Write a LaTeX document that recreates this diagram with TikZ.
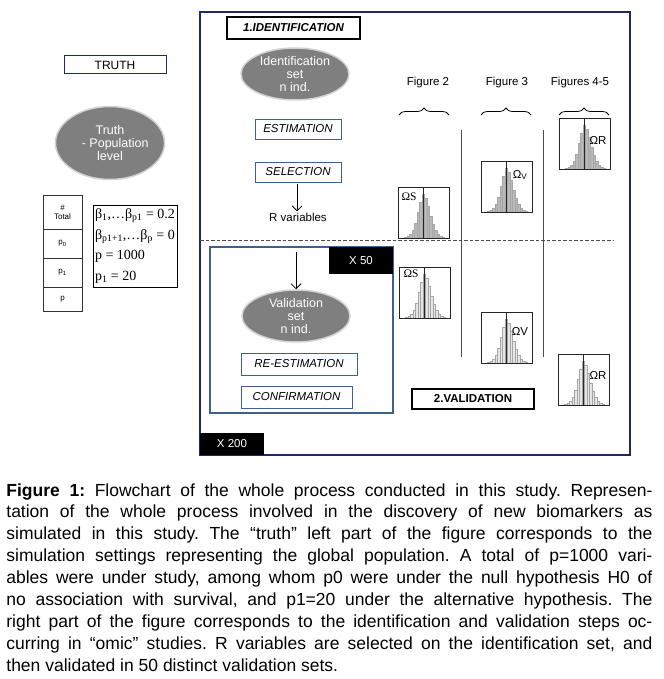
\documentclass[tikz,border=0pt]{standalone}
\usepackage{fontspec}
\setmainfont{Liberation Sans}
\newfontfamily\tmsfont{Liberation Serif}
\usetikzlibrary{arrows.meta, shapes.geometric, decorations.pathreplacing}
\definecolor{navyfr}{HTML}{1F2A63}
\definecolor{steelfr}{HTML}{3F5F8F}
\definecolor{ellgray}{HTML}{7F7F7F}
\newcommand{\fsz}{\fontsize{11.5}{13.5}\selectfont}
\tikzset{
    ttl/.style={draw, line width=1.3pt, inner sep=0pt, font=\bfseries\fsz},
    stp/.style={draw=steelfr, thick, inner sep=0pt, font=\itshape\fsz},
    ell/.style={ellipse, fill=ellgray, draw=gray!35, line width=1.5pt, text=white, align=center, inner sep=0pt, font=\fontsize{12.5}{13}\selectfont},
    blkx/.style={fill=black, text=white, inner sep=0pt, font=\fsz},
    cell/.style={draw=gray!40!black, thick, minimum width=39pt, inner sep=0pt, align=center, font=\fontsize{8}{9}\selectfont},
    lbl/.style={inner sep=1pt, font=\fsz},
    brc/.style={decorate, decoration={brace, amplitude=7pt}, thick},
    sep/.style={draw=gray!60!black, line width=1pt},
    bd/.style={>={Straight Barb[length=5pt]}, thick}
}
\newcommand{\hgram}[3]{%
    \foreach \h [count=\i] in {1,2,4,8,15,26,36,44,40,32,22,14,8,4,2,1}
        \draw[fill=#3, draw=gray!70, line width=0.3pt] ({#1+4+2.5*\i},{#2+51}) rectangle ++(2.5,-\h);
    \draw[gray!30!black] ({#1+25.5},#2) -- ({#1+25.5},{#2+51});
    \draw[gray!30!black, line width=0.8pt] (#1,#2) rectangle ++(51,51);
}

\begin{document}
\begin{tikzpicture}[x=1pt, y=-1pt, bd]
    \useasboundingbox (0,0) rectangle (663,679);

    % truth
    \node[draw=navyfr, line width=1pt, minimum width=102pt, minimum height=18pt, inner sep=0pt, font=\fontsize{12}{14}\selectfont] (truth) at (115,65) {TRUTH};
    \node[ell, minimum width=103pt, minimum height=73pt] (pop) at (110,143) {Truth\\ \ \ \ - Population\\level};
    \node[cell, minimum height=34pt] (tot) at (62.5,212) {\#\\Total};
    \node[cell, minimum height=29pt] (pz) at (62.5,243.5) {p\textsubscript{0}};
    \node[cell, minimum height=29pt] (po) at (62.5,272.5) {p\textsubscript{1}};
    \node[cell, minimum height=24pt] (pp) at (62.5,299) {p};
    \node[draw, thick, minimum width=84pt, minimum height=82pt, inner sep=2pt, align=left,
        font=\tmsfont\fontsize{14}{20.5}\selectfont] (beta) at (135,246)
        {β\textsubscript{1},…β\textsubscript{p1} = 0.2\\β\textsubscript{p1+1},…β\textsubscript{p} = 0\\p = 1000\\p\textsubscript{1} = 20};

    % identification
    \draw[navyfr, line width=1.3pt] (200,12) rectangle (630,455);
    \node[ttl, minimum width=133pt, minimum height=22pt, font=\bfseries\itshape\fsz] (ident) at (293.5,28) {1.IDENTIFICATION};
    \node[ell, minimum width=108pt, minimum height=52pt] (idset) at (295,74) {Identification\\set\\n ind.};
    \node[stp, minimum width=86pt, minimum height=20pt] (est) at (298,129) {ESTIMATION};
    \node[stp, minimum width=86pt, minimum height=20pt] (sel) at (298,172) {SELECTION};
    \node[lbl] (rvar) at (298,217) {R variables};
    \coordinate (selb) at (297,184);
    \draw[->] (selb) -- (selb |- rvar.north);
    \draw[gray!60!black, line width=1pt, dash pattern=on 3.5pt off 2pt] (200,240) -- (614,240);

    % validation
    \draw[steelfr, line width=1.2pt] (210,247) rectangle (393,413);
    \node[blkx, minimum width=64pt, minimum height=27pt] (x50) at (361,260.5) {X 50};
    \node[ell, minimum width=108pt, minimum height=52pt] (valset) at (296,316) {Validation\\set\\n ind.};
    \coordinate (vtop) at (296,252);
    \draw[->] (vtop) -- (valset.north);
    \node[stp, minimum width=116pt, minimum height=22pt] (reest) at (299,364) {RE-ESTIMATION};
    \node[stp, minimum width=111pt, minimum height=22pt] (conf) at (296.5,397) {CONFIRMATION};
    \node[blkx, minimum width=64pt, minimum height=22pt] (x200) at (232,444) {X 200};
    \node[ttl, minimum width=122pt, minimum height=20pt] (valid) at (473,399) {2.VALIDATION};

    % figures
    \node[lbl] (fig2) at (428,83) {Figure 2};
    \node[lbl] (fig3) at (507,83) {Figure 3};
    \node[lbl] (fig45) at (580,83) {Figures 4-5};
    \draw[brc] (399,115) -- (449,115);
    \draw[brc] (481,115) -- (531,115);
    \draw[brc] (559,115) -- (609,115);
    \draw[sep] (461,130) -- (461,357);
    \draw[sep] (543,130) -- (543,357);

    \hgram{398}{187}{gray!55}
    \hgram{481}{161}{gray!55}
    \hgram{559}{118}{gray!55}
    \hgram{399}{267}{gray!20}
    \hgram{481}{312}{gray!20}
    \hgram{558}{354}{gray!20}
    \node[lbl, font=\tmsfont\fsz] (osa) at (409,197) {ΩS};
    \node[lbl] (ova) at (520,175) {Ω\textsubscript{V}};
    \node[lbl] (ora) at (598,140) {ΩR};
    \node[lbl, font=\tmsfont\fsz] (osb) at (411,274) {ΩS};
    \node[lbl] (ovb) at (520,331) {ΩV};
    \node[lbl] (orb) at (598,375) {ΩR};

    % caption
    \node[anchor=north west, inner sep=0pt, text width=646pt, align=justify,
        font=\fontsize{17.5}{21.9}\selectfont\frenchspacing] (capt) at (6,483)
        {\textbf{Figure 1:} Flowchart of the whole process conducted in this study. Represen-\linebreak
        tation of the whole process involved in the discovery of new biomarkers as\linebreak
        simulated in this study. The “truth” left part of the figure corresponds to the\linebreak
        simulation settings representing the global population. A total of p=1000 vari-\linebreak
        ables were under study, among whom p0 were under the null hypothesis H0 of\linebreak
        no association with survival, and p1=20 under the alternative hypothesis. The\linebreak
        right part of the figure corresponds to the identification and validation steps oc-\linebreak
        curring in “omic” studies. R variables are selected on the identification set, and\linebreak
        then validated in 50 distinct validation sets.};
\end{tikzpicture}
\end{document}
